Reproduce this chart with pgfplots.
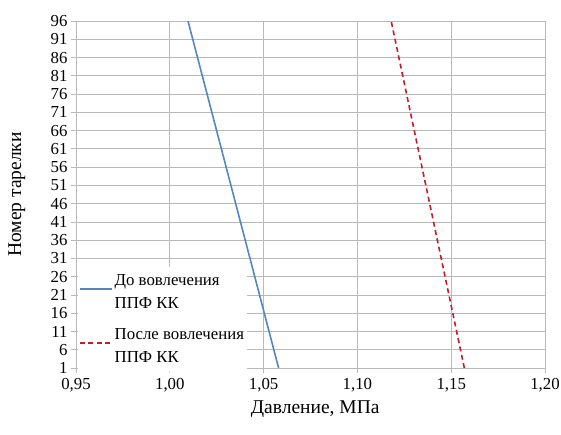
\documentclass[border=0pt]{standalone}
\usepackage{pgfplots}
\pgfplotsset{compat=1.18}
\usepackage{fontspec}
\setmainfont{Liberation Serif}
\definecolor{lblue}{RGB}{84,135,190}
\definecolor{dred}{RGB}{192,30,40}
\definecolor{gridc}{RGB}{185,185,185}
\newcommand{\fs}{\fontsize{16.8pt}{19pt}\selectfont}
\newcommand{\fl}{\fontsize{19.5pt}{22pt}\selectfont}
\renewcommand{\arraystretch}{1.2}
\begin{document}
\begin{tikzpicture}
\useasboundingbox (-76pt,-66pt) rectangle (485pt,368pt);
\begin{axis}[
  scale only axis,
  width=469pt, height=347pt,
  xmin=0.95, xmax=1.20,
  ymin=1, ymax=96,
  xtick={0.95,1.00,1.05,1.10,1.15,1.20},
  ytick={1,6,...,96},
  grid=major,
  major grid style={gridc, line width=0.8pt},
  axis line style={gridc, line width=0.8pt},
  tick style={gridc, line width=0.8pt},
  tick align=outside,
  major tick length=5pt,
  xtick pos=bottom, ytick pos=left,
  /pgf/number format/.cd, use comma, fixed, fixed zerofill, precision=2, assume math mode=true,
  /pgfplots/.cd,
  yticklabel style={/pgf/number format/precision=0, /pgf/number format/fixed zerofill=false},
  tick label style={font=\fs, text=black},
  xticklabel style={yshift=-2pt},
  label style={font=\fl},
  xlabel={Давление, МПа},
  ylabel={Номер тарелки},
  xlabel style={at={(axis description cs:0.51,-0.118)}, anchor=center},
  ylabel style={at={(axis description cs:-0.126,0.5)}, anchor=center, rotate=0},
  legend style={draw=none, fill=white, at={(axis cs:0.951,28.8)}, anchor=north west,
    font=\fs, row sep=4pt, inner sep=1pt, nodes={text depth=}},
  legend cell align=left,
  legend image code/.code={\draw[#1] (0pt,0.33em) -- (32pt,0.33em);},
]
\addplot[lblue, line width=1.6pt] coordinates {(1.058,1) (1.0097,96)};
\addlegendentry{\begin{tabular}[t]{@{}l@{}}До вовлечения\\ППФ КК\end{tabular}}
\addplot[dred, line width=1.6pt, dash pattern=on 5pt off 3.5pt] coordinates {(1.157,1) (1.118,96)};
\addlegendentry{\begin{tabular}[t]{@{}l@{}}После вовлечения\\ППФ КК\end{tabular}}
\end{axis}
\end{tikzpicture}
\end{document}
